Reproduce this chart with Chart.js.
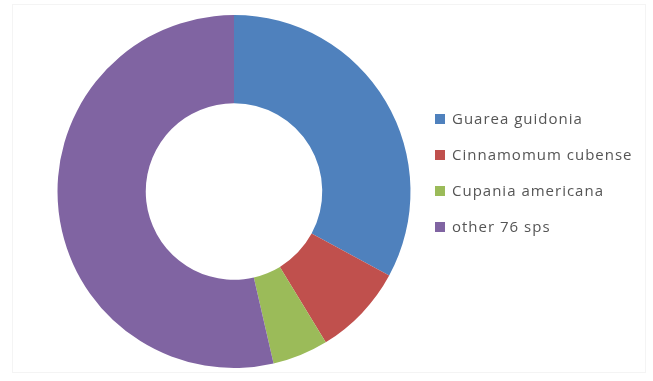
<!DOCTYPE html>
<html>
<head>
<meta charset="utf-8">
<script src="https://cdn.jsdelivr.net/npm/chart.js@4"></script>
<style>
  html, body { margin: 0; padding: 0; background: #ffffff; }
  #wrap { position: relative; width: 653px; height: 381px; }
  canvas { display: block; }
</style>
</head>
<body>
<div id="wrap"><canvas id="chart" width="653" height="381"></canvas></div>
<script>
// Species share of individuals (%)
const species = ['Guarea guidonia', 'Cinnamomum cubense', 'Cupania americana', 'other 76 sps'];
const shares = [32.9, 8.4, 5.1, 53.6];
const colors = ['#4f81bd', '#c0504d', '#9bbb59', '#8064a2'];

// Legend drawn to the right of the ring, one row per species
const sideLegend = {
  id: 'sideLegend',
  afterDraw(chart) {
    const ctx = chart.ctx;
    const labels = chart.data.labels;
    const bg = chart.data.datasets[0].backgroundColor;
    const x0 = 435, y0 = 119, step = 36;
    ctx.save();
    ctx.font = '15px "Open Sans"';
    if ('letterSpacing' in ctx) ctx.letterSpacing = '1px';
    ctx.textBaseline = 'middle';
    labels.forEach((lab, i) => {
      const y = y0 + i * step;
      ctx.fillStyle = bg[i];
      ctx.fillRect(x0, y - 5, 10, 10);
      ctx.fillStyle = '#555555';
      ctx.fillText(lab, x0 + 17, y + 1);
    });
    ctx.restore();
  }
};

// Faint frame around the chart area
const frame = {
  id: 'frame',
  beforeDraw(chart) {
    const ctx = chart.ctx;
    ctx.save();
    ctx.strokeStyle = '#f4f4f4';
    ctx.lineWidth = 1;
    ctx.strokeRect(12.5, 4.5, 633, 368);
    ctx.restore();
  }
};

new Chart(document.getElementById('chart'), {
  type: 'doughnut',
  data: {
    labels: species,
    datasets: [{
      data: shares,
      backgroundColor: colors,
      borderWidth: 0
    }]
  },
  options: {
    responsive: false,
    animation: false,
    cutout: '50%',
    layout: { padding: { left: 57, right: 242, top: 15, bottom: 13 } },
    plugins: {
      legend: { display: false },
      tooltip: { enabled: false }
    }
  },
  plugins: [frame, sideLegend]
});
</script>
</body>
</html>
